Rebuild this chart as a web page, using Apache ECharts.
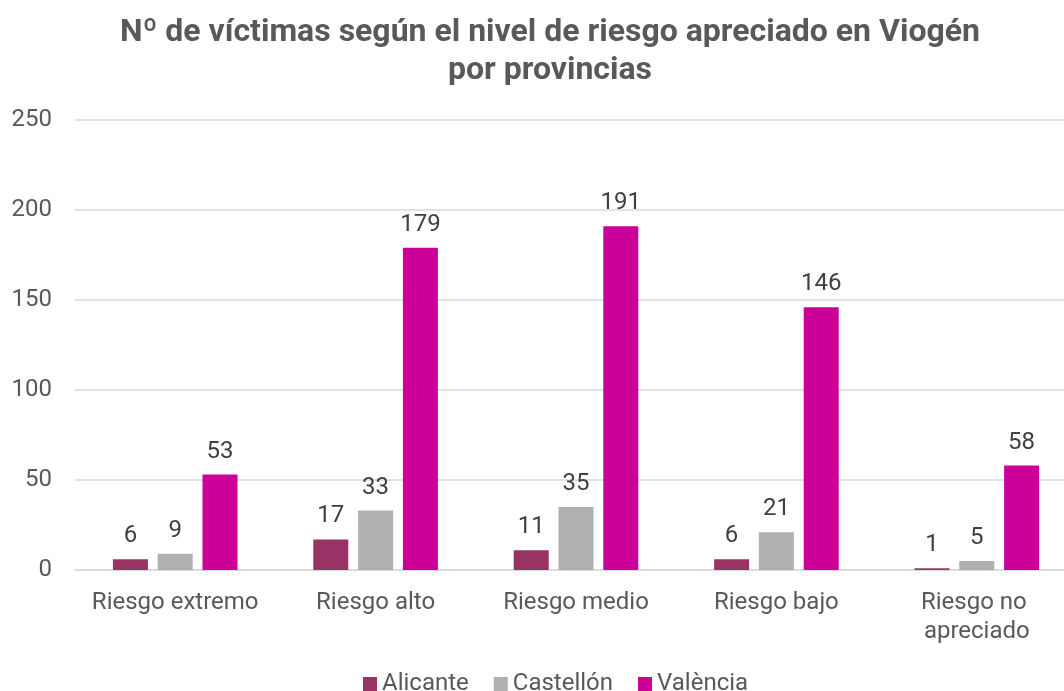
<!DOCTYPE html>
<html>
<head>
<meta charset="utf-8">
<script src="https://cdn.jsdelivr.net/npm/echarts@6/dist/echarts.min.js"></script>
<style>
  html, body { margin: 0; padding: 0; background: #fff; }
  #chart { width: 1064px; height: 691px; }
</style>
</head>
<body>
<div id="chart"></div>
<script>
var categories = ['Riesgo extremo', 'Riesgo alto', 'Riesgo medio', 'Riesgo bajo', 'Riesgo no apreciado'];
var alicante = [6, 17, 11, 6, 1];
var castellon = [9, 33, 35, 21, 5];
var valencia = [53, 179, 191, 146, 58];

var labelStyle = {
    show: true,
    position: 'top',
    distance: 11,
    color: '#404040',
    fontSize: 24,
    fontFamily: 'Roboto'
};

var option = {
    textStyle: { fontFamily: 'Roboto' },
    color: ['#993366', '#B0B0B0', '#CC0099'],
    title: {
        text: 'Nº de víctimas según el nivel de riesgo apreciado en Viogén\npor provincias',
        left: 545,
        top: 9,
        textAlign: 'center',
        textStyle: {
            color: '#595959',
            fontSize: 32,
            fontWeight: 'bold',
            fontFamily: 'Roboto',
            lineHeight: 38
        }
    },
    legend: {
        top: 667,
        left: 358,
        itemWidth: 14,
        itemHeight: 14,
        itemGap: 25,
        icon: 'rect',
        textStyle: { color: '#595959', fontSize: 24, fontFamily: 'Roboto' },
        data: ['Alicante', 'Castellón', 'València']
    },
    grid: {
        left: 75,
        top: 120,
        width: 1002,
        height: 450,
        outerBoundsMode: 'none'
    },
    xAxis: {
        type: 'category',
        data: categories,
        axisTick: { show: false },
        axisLine: { lineStyle: { color: '#D9D9D9', width: 1.5 } },
        axisLabel: {
            color: '#595959',
            fontSize: 24,
            margin: 18,
            lineHeight: 29,
            width: 190,
            overflow: 'break',
            interval: 0
        }
    },
    yAxis: {
        type: 'value',
        min: 0,
        max: 250,
        interval: 50,
        axisLine: { show: false },
        axisTick: { show: false },
        splitLine: { lineStyle: { color: '#D9D9D9', width: 1.5 } },
        axisLabel: { color: '#595959', fontSize: 24, margin: 23 }
    },
    series: [{
        name: 'Alicante',
        type: 'bar',
        barWidth: 35,
        barGap: '28%',
        data: alicante,
        label: labelStyle
    }, {
        name: 'Castellón',
        type: 'bar',
        barWidth: 35,
        barGap: '28%',
        data: castellon,
        label: labelStyle
    }, {
        name: 'València',
        type: 'bar',
        barWidth: 35,
        barGap: '28%',
        data: valencia,
        label: labelStyle
    }]
};

var myChart = echarts.init(document.getElementById('chart'));
myChart.setOption(option);
</script>
</body>
</html>
